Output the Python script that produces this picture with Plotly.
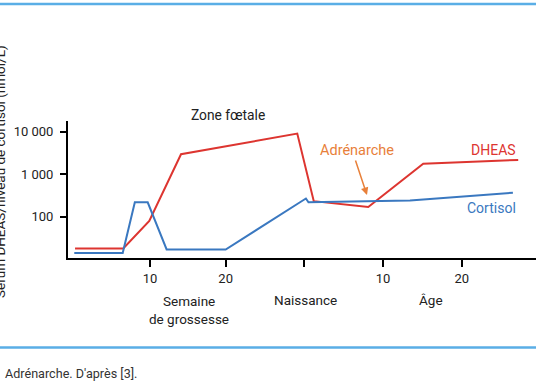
import plotly.graph_objects as go

# Timeline positions (weeks of pregnancy up to birth, then age, on the chart's own scale)
tick_pos = [10, 20, 30.34, 40.8, 51.2]
tick_text = ["10", "20", "", "10", "20"]

cortisol_x = [0.0, 6.4, 8.0, 9.7, 12.2, 20.0, 30.6, 30.94, 44.35, 57.95]
cortisol_y = [14, 14, 218, 218, 17, 17, 268, 218, 240, 367]

dheas_x = [0.1, 6.47, 9.91, 14.1, 29.46, 31.64, 38.84, 46.1, 58.65]
dheas_y = [18, 18, 80, 2940, 8980, 232, 169, 1766, 2158]

y_tickvals = [100, 1000, 10000]
y_ticktext = ["100", "1 000", "10 000"]

W, H = 536, 386
L, R, T, B = 68, 0, 121, 128
PW, PH = W - L - R, H - T - B


def px(x):
    return (x - L) / PW


def py(y):
    return (H - B - y) / PH


RED = "#dd3530"
BLUE = "#3a78c0"
ORANGE = "#e8803a"
DARK = "#222222"
FONT = "Roboto"

fig = go.Figure()
fig.add_trace(go.Scatter(x=dheas_x, y=dheas_y, mode="lines",
                         line=dict(color=RED, width=2), name="DHEAS"))
fig.add_trace(go.Scatter(x=cortisol_x, y=cortisol_y, mode="lines",
                         line=dict(color=BLUE, width=2), name="Cortisol"))

fig.update_layout(
    width=W, height=H,
    margin=dict(l=L, r=R, t=T, b=B),
    paper_bgcolor="white", plot_bgcolor="white",
    showlegend=False,
    font=dict(family=FONT, size=13, color=DARK),
    xaxis=dict(range=[-0.83, 61], tickvals=tick_pos, ticktext=tick_text,
               showgrid=False, zeroline=False, showline=True, linecolor="black",
               linewidth=2, ticks="outside", ticklen=7, tickwidth=2, tickcolor="black",
               tickfont=dict(size=13, color=DARK, family=FONT)),
    yaxis=dict(type="log", range=[1.03, 4.25], tickvals=y_tickvals, ticktext=y_ticktext,
               showgrid=False, zeroline=False, showline=True, linecolor="black",
               linewidth=2, ticks="outside", ticklen=6, tickwidth=2, tickcolor="black",
               ticklabelstandoff=4,
               tickfont=dict(size=13, color=DARK, family=FONT)),
)

ann = []


def text(t, x, y, color=DARK, size=13.5, xanchor="center", angle=0):
    ann.append(dict(text=t, x=px(x), y=py(y), xref="paper", yref="paper",
                    showarrow=False, xanchor=xanchor, yanchor="middle",
                    textangle=angle, font=dict(color=color, size=size, family=FONT)))


text("Zone fœtale", 228, 115, size=13.8)
text("Adrénarche", 357, 150, color=ORANGE, size=14.5)
text("DHEAS", 518, 150, color=RED, xanchor="right", size=14)
text("Cortisol", 518, 208, color=BLUE, xanchor="right", size=14)
text("Semaine", 189, 301)
text("de grossesse", 189, 319)
text("Naissance", 305, 300)
text("Âge", 431, 300)
text("Sérum DHEAS/niveau de cortisol (nmol/L)", 0, 172, angle=-90)
text("Adrénarche. D'après [3].", 3, 373, color="#333333", size=12.6, xanchor="left")

ann.append(dict(text="", x=px(367), y=py(195), xref="paper", yref="paper",
                ax=-12, ay=-36, showarrow=True, arrowhead=2, arrowsize=1,
                arrowwidth=1.5, arrowcolor=ORANGE))

fig.update_layout(annotations=ann)

LINE = "#5aaee6"
fig.add_shape(type="line", xref="paper", yref="paper", x0=px(0), x1=px(W),
              y0=py(4), y1=py(4), line=dict(color=LINE, width=2.5))
fig.add_shape(type="line", xref="paper", yref="paper", x0=px(0), x1=px(W),
              y0=py(347.5), y1=py(347.5), line=dict(color=LINE, width=2.5))

fig.write_html("out.html", config={"displayModeBar": False},
               post_script="document.body.style.margin='0';document.body.style.padding='0';")
